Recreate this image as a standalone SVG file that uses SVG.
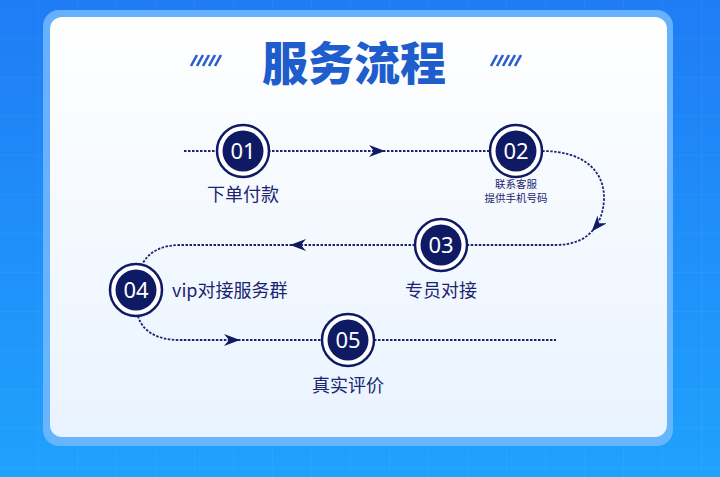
<svg xmlns="http://www.w3.org/2000/svg" width="720" height="477" viewBox="0 0 720 477">
  <defs>
    <linearGradient id="bg" x1="0" y1="0" x2="0" y2="1">
      <stop offset="0" stop-color="#1f7cf5"/>
      <stop offset="1" stop-color="#1fa2fd"/>
    </linearGradient>
    <linearGradient id="card" x1="0" y1="0" x2="0" y2="1">
      <stop offset="0" stop-color="#ffffff"/>
      <stop offset="1" stop-color="#e9f3ff"/>
    </linearGradient>
    <pattern id="grid" width="39" height="39" patternUnits="userSpaceOnUse">
      <path d="M39,0 L39,39 M0,39 L39,39" fill="none" stroke="#ffffff" stroke-opacity="0.08" stroke-width="1"/>
    </pattern>
    <marker id="arr" markerUnits="userSpaceOnUse" viewBox="0 0 16 12" refX="14" refY="6" markerWidth="16" markerHeight="12" orient="auto">
      <path d="M0,0 L16,6 L0,12 L5,6 Z" fill="#0f1a64"/>
    </marker>
    <style>
      .ln{fill:none;stroke:#1a2470;stroke-width:1.8;stroke-dasharray:2.5 1.5}
      .ring{fill:#ffffff;stroke:#0f1a64;stroke-width:2.5}
      .core{fill:#0f1a64}
      .num{font-family:"Noto Sans","Noto Sans CJK SC",sans-serif;font-size:22px;fill:#ffffff;text-anchor:middle}
      .lbl{font-family:"Noto Sans CJK SC",sans-serif;font-size:18px;fill:#1a2470;text-anchor:middle}
      .sm{font-family:"Noto Sans CJK SC",sans-serif;font-size:10.5px;fill:#1a2470;text-anchor:middle}
      .sl{fill:none;stroke:#2a5fd0;stroke-width:2.6}
    </style>
  </defs>
  <rect width="720" height="477" fill="url(#bg)"/>
  <rect width="720" height="477" fill="url(#grid)"/>
  <rect x="43" y="10" width="630" height="436" rx="16" fill="#74b8ff" fill-opacity="0.85"/>
  <rect x="50" y="17" width="617" height="420" rx="12" fill="url(#card)"/>

  <g id="title">
    <text x="354" y="80" font-family="Noto Sans CJK SC, sans-serif" font-size="46" font-weight="900" fill="#1f5ccc" text-anchor="middle">服务流程</text>
    <path class="sl" d="M197,66 L203,55 M203,66 L209,55 M209,66 L215,55 M215,66 L221,55 M191,66 L197,55"/>
    <path class="sl" d="M491,66 L497,55 M497,66 L503,55 M503,66 L509,55 M509,66 L515,55 M515,66 L521,55"/>
  </g>

  <g id="connectors">
    <path class="ln" d="M184,151 L383,151" marker-end="url(#arr)"/>
    <path class="ln" d="M383,151 L490,151"/>
    <path class="ln" d="M542,151 C585,151 605,172 604,200 C603,214 599,223 593,230" marker-end="url(#arr)"/>
    <path class="ln" d="M593,230 C585,240 572,245 555,245 L468,245"/>
    <path class="ln" d="M415,245 L292,245" marker-end="url(#arr)"/>
    <path class="ln" d="M292,245 L180,245 C162,245 149,252 143,263"/>
    <path class="ln" d="M138,316 C142,330 155,340 180,340 L238,340" marker-end="url(#arr)"/>
    <path class="ln" d="M238,340 L556,340"/>
  </g>

  <g id="node01">
    <circle class="ring" cx="243" cy="151" r="26"/>
    <circle class="core" cx="243" cy="151" r="20.5"/>
    <text class="num" x="243" y="159">01</text>
    <text class="lbl" x="243" y="201">下单付款</text>
  </g>
  <g id="node02">
    <circle class="ring" cx="516" cy="151" r="26"/>
    <circle class="core" cx="516" cy="151" r="20.5"/>
    <text class="num" x="516" y="159">02</text>
    <text class="sm" x="516" y="188">联系客服</text>
    <text class="sm" x="516" y="202">提供手机号码</text>
  </g>
  <g id="node03">
    <circle class="ring" cx="441" cy="245" r="26"/>
    <circle class="core" cx="441" cy="245" r="20.5"/>
    <text class="num" x="441" y="253">03</text>
    <text class="lbl" x="441" y="297">专员对接</text>
  </g>
  <g id="node04">
    <circle class="ring" cx="136" cy="290" r="26"/>
    <circle class="core" cx="136" cy="290" r="20.5"/>
    <text class="num" x="136" y="298">04</text>
    <text class="lbl" x="172" y="297" style="text-anchor:start">vip对接服务群</text>
  </g>
  <g id="node05">
    <circle class="ring" cx="348" cy="340" r="26"/>
    <circle class="core" cx="348" cy="340" r="20.5"/>
    <text class="num" x="348" y="348">05</text>
    <text class="lbl" x="348" y="392">真实评价</text>
  </g>
</svg>
